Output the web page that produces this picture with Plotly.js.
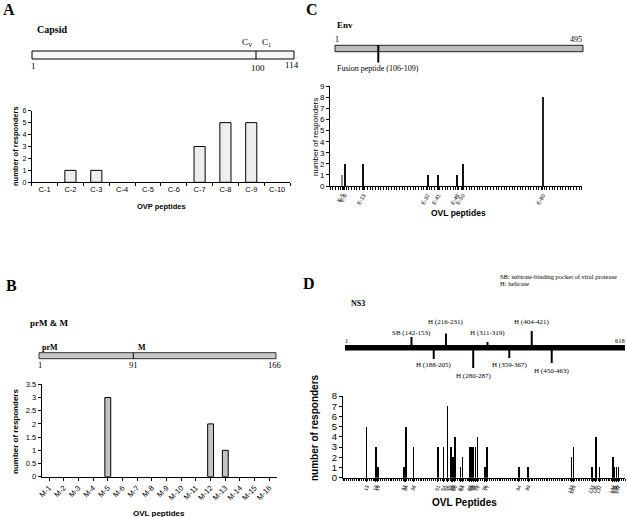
<!DOCTYPE html>
<html><head><meta charset="utf-8">
<script src="https://cdn.plot.ly/plotly-3.0.1.min.js"></script>
<style>html,body{margin:0;padding:0;background:#fff}#chart{width:627px;height:517px}</style>
</head><body><div id="chart"></div>
<script>
// ---------- DATA ----------
// Panel A: Capsid
const capsidPeptides = ['C-1','C-2','C-3','C-4','C-5','C-6','C-7','C-8','C-9','C-10'];
const capsidResponders = [0,1,1,0,0,0,3,5,5,0];
// Panel B: prM & M
const mPeptides = ['M-1','M-2','M-3','M-4','M-5','M-6','M-7','M-8','M-9','M-10','M-11','M-12','M-13','M-14','M-15','M-16'];
const mResponders = [0,0,0,0,3,0,0,0,0,0,0,2,1,0,0,0];
// Panel C: Env
const envPeptideCount = 94;
const envPeptides = [5,6,13,37,41,48,50,80];
const envLabels = ['E-5','E-6','E-13','E-37','E-41','E-48','E-50','E-80'];
const envResponders = [1,2,2,1,1,1,2,8];
const envBarColors = ['#8a8a8a','#111','#111','#111','#111','#111','#111','#222'];
// Panel D: NS3
const ns3PeptideCount = 150;
const ns3Peptides = [13,18,19,33,34,38,51,54,56,58,59,60,63,64,68,69,70,71,72,76,77,94,99,122,123,133,135,137,144,145,146,147];
const ns3Responders = [5,3,1,1,5,3,3,3,7,3,2,4,1,2,3,3,3,3,4,1,3,1,1,2,3,1,4,1,2,1,1,1];
// NS3 schematic sites
const ns3Length = 618;
const ns3SiteLabels = ['SB (142-153)','H (216-231)','H (311-319)','H (404-421)','H (188-205)','H (280-287)','H (359-367)','H (450-463)'];
const ns3SiteStart = [142,216,311,404,188,280,359,450];
const ns3SiteEnd   = [153,231,319,421,205,287,367,463];
const ns3SiteUp    = [true,true,true,true,false,false,false,false];

// ---------- LAYOUT HELPERS ----------
const W = 627, H = 517;
const X = p => p / W;
const Y = p => 1 - p / H;
const serif = 'Liberation Serif, Times New Roman, serif';
const sans = 'Liberation Sans, Arial, sans-serif';
const outlineFor = vals => vals.map(v => v > 0 ? 1 : 0);

const traces = [
  {type:'bar', x:capsidPeptides, y:capsidResponders, xaxis:'x', yaxis:'y', width:0.43,
   marker:{color:'#eeeeee', line:{color:'#000', width:outlineFor(capsidResponders)}}},
  {type:'bar', x:mPeptides, y:mResponders, xaxis:'x2', yaxis:'y2', width:0.4,
   marker:{color:'#c4c4c4', line:{color:'#000', width:outlineFor(mResponders)}}},
  {type:'bar', x:envPeptides, y:envResponders, xaxis:'x3', yaxis:'y3', width:0.75,
   marker:{color:envBarColors, line:{width:0}}},
  {type:'bar', x:ns3Peptides, y:ns3Responders, xaxis:'x4', yaxis:'y4', width:0.8,
   marker:{color:'#000', line:{width:0}}},
  {type:'scatter', x:[], y:[], xaxis:'x5', yaxis:'y5', hoverinfo:'skip'}
];

const axBase = {showline:true, linecolor:'#000', linewidth:1, ticks:'outside', ticklen:3, tickcolor:'#000',
  showgrid:false, zeroline:false, fixedrange:true, automargin:false};
const tf = s => ({size:s, family:sans, color:'#000'});

const shapes = [];
const annotations = [];
function txt(text, x, y, size, opts) {
  annotations.push(Object.assign({text:text, x:X(x), y:Y(y), xref:'paper', yref:'paper', showarrow:false,
    font:{family:serif, size:size, color:'#000'}, xanchor:'center', yanchor:'middle'}, opts||{}));
}
function rect(x0,y0,x1,y1,fill,lc,lw){
  shapes.push({type:'rect', xref:'paper', yref:'paper', x0:X(x0), x1:X(x1), y0:Y(y0), y1:Y(y1),
    fillcolor:fill, line:{color:lc, width:lw}});
}
function vline(x,y0,y1,w){
  shapes.push({type:'line', xref:'paper', yref:'paper', x0:X(x), x1:X(x), y0:Y(y0), y1:Y(y1), line:{color:'#000', width:w}});
}

// Panel letters
txt('<b>A</b>', 9, 10, 16);
txt('<b>B</b>', 11, 285, 16);
txt('<b>C</b>', 312, 10, 16);
txt('<b>D</b>', 309, 283, 16);

// Panel A schematic
txt('<b>Capsid</b>', 35, 29, 10, {xanchor:'left'});
rect(32, 51, 294, 59, '#f6f6f6', '#000', 1);
vline(256, 51, 59, 1);
txt('C<sub>V</sub>', 247, 42, 9);
txt('C<sub>1</sub>', 266, 42, 9);
txt('1', 33, 66, 9);
txt('100', 258, 68, 9);
txt('114', 292, 65, 9);

// Panel B schematic
txt('<b>prM &amp; M</b>', 28, 323, 9, {xanchor:'left'});
txt('<b>prM</b>', 40, 347, 8, {xanchor:'left'});
txt('<b>M</b>', 142, 347, 8);
rect(39, 352.7, 276, 358.7, '#c8c8c8', '#333', 1);
vline(133.3, 352.7, 358.7, 1);
txt('1', 40, 365, 8.5);
txt('91', 133, 365, 8.5);
txt('166', 274, 365, 8.5);

// Panel C schematic
txt('<b>Env</b>', 335, 25, 9, {xanchor:'left'});
txt('1', 337, 40, 8);
txt('495', 576, 40, 8);
rect(335, 45.3, 583, 51.7, '#bcbcbc', '#222', 1);
vline(378.3, 45, 62.5, 2);
txt('Fusion peptide (106-109)', 335, 68.5, 8, {xanchor:'left'});

// Panel D schematic
txt('<b>NS3</b>', 349, 303, 8, {xanchor:'left'});
txt('SB: subtrate-binding pocket of viral protease', 498, 276, 6.5, {xanchor:'left'});
txt('H: helicase', 498, 283.5, 6.5, {xanchor:'left'});
txt('1', 346.5, 340, 6.5);
txt('618', 620, 340, 6.5);
shapes.push({type:'rect', xref:'x5', yref:'paper', x0:1, x1:ns3Length, y0:Y(345.5), y1:Y(350), fillcolor:'#000', line:{color:'#000', width:1}});
const upLen = [9, 12.5, 4, 15];
const upLabY = [333, 321.7, 333, 321.7];
const dnLen = [10, 19, 9, 14];
const dnLabY = [364.5, 375.7, 364.5, 371];
let ui = 0, di = 0;
for (let i = 0; i < ns3SiteLabels.length; i++) {
  const mid = (ns3SiteStart[i] + ns3SiteEnd[i]) / 2;
  let y0, y1, ly;
  if (ns3SiteUp[i]) { y0 = 346; y1 = 346 - upLen[ui]; ly = upLabY[ui]; ui++; }
  else { y0 = 349; y1 = 349 + dnLen[di]; ly = dnLabY[di]; di++; }
  shapes.push({type:'line', xref:'x5', yref:'paper', x0:mid, x1:mid, y0:Y(y0), y1:Y(y1), line:{color:'#000', width:2}});
  annotations.push({text:ns3SiteLabels[i], x:mid, y:Y(ly), xref:'x5', yref:'paper', showarrow:false,
    font:{family:serif, size:7, color:'#000'}, xanchor:'center', yanchor:'middle'});
}

// Axis titles
txt('<b>number of responders</b>', 15, 146, 7.5, {textangle:-90, font:{family:sans, size:7.5, color:'#000'}});
txt('<b>OVP peptides</b>', 161, 207, 7.5, {font:{family:sans, size:7.5, color:'#000'}});
txt('<b>number of responders</b>', 15, 432, 8, {textangle:-90, font:{family:sans, size:8, color:'#000'}});
txt('<b>OVL peptides</b>', 159, 513, 8, {font:{family:sans, size:8, color:'#000'}});
txt('number of responders', 315, 137, 8, {textangle:-90, font:{family:sans, size:8, color:'#000'}});
txt('<b>OVL peptides</b>', 458, 213, 8.5, {font:{family:sans, size:8.5, color:'#000'}});
txt('<b>number of responders</b>', 314, 428, 10, {textangle:-90, font:{family:sans, size:10, color:'#000'}});
txt('<b>OVL Peptides</b>', 464, 502, 10, {font:{family:sans, size:10, color:'#000'}});

const layout = {
  width: W, height: H, margin:{l:0, r:0, t:0, b:0}, paper_bgcolor:'#fff', plot_bgcolor:'rgba(0,0,0,0)',
  showlegend:false, bargap:0,
  font:{family:sans, color:'#000'},
  xaxis: Object.assign({}, axBase, {domain:[X(31.7), X(290)], anchor:'y', type:'category', tickson:'boundaries',
    tickfont:tf(7.5)}),
  yaxis: Object.assign({}, axBase, {domain:[Y(182.3), Y(110.7)], anchor:'x', range:[0,6], dtick:1,
    tickfont:tf(7)}),
  xaxis2: Object.assign({}, axBase, {domain:[X(41.7), X(276.7)], anchor:'y2', type:'category', tickangle:-45,
    tickfont:tf(7.5)}),
  yaxis2: Object.assign({}, axBase, {domain:[Y(476.7), Y(384.3)], anchor:'x2', range:[0,3.5], dtick:0.5,
    tickfont:tf(7.5)}),
  xaxis3: Object.assign({}, axBase, {domain:[X(330), X(581.7)], anchor:'y3', range:[0.5, envPeptideCount+0.5],
    tickmode:'array', tickvals:envPeptides, ticktext:envLabels, tickangle:-60, tickfont:tf(5.5),
    minor:{tickmode:'linear', tick0:0.5, dtick:1, ticks:'outside', ticklen:2.5, tickcolor:'#000', showgrid:false}}),
  yaxis3: Object.assign({}, axBase, {domain:[Y(186), Y(86.3)], anchor:'x3', range:[0,9], dtick:1,
    tickfont:tf(8)}),
  xaxis4: Object.assign({}, axBase, {domain:[X(343), X(625)], anchor:'y4', range:[0.5, ns3PeptideCount+0.5],
    tickmode:'array', tickvals:ns3Peptides, ticktext:ns3Peptides.map(String), tickangle:-70, tickfont:tf(5),
    minor:{tickmode:'linear', tick0:0.5, dtick:1, ticks:'outside', ticklen:2.5, tickcolor:'#000', showgrid:false}}),
  yaxis4: Object.assign({}, axBase, {domain:[Y(477.7), Y(396)], anchor:'x4', range:[0,8], dtick:1,
    tickfont:tf(9.5)}),
  xaxis5: {domain:[X(345), X(625)], range:[1, ns3Length], anchor:'y5', visible:false, fixedrange:true},
  yaxis5: {domain:[Y(352), Y(300)], range:[0,1], anchor:'x5', visible:false, fixedrange:true},
  shapes: shapes,
  annotations: annotations
};

Plotly.newPlot('chart', traces, layout, {displayModeBar:false, staticPlot:true});
</script>
</body></html>
